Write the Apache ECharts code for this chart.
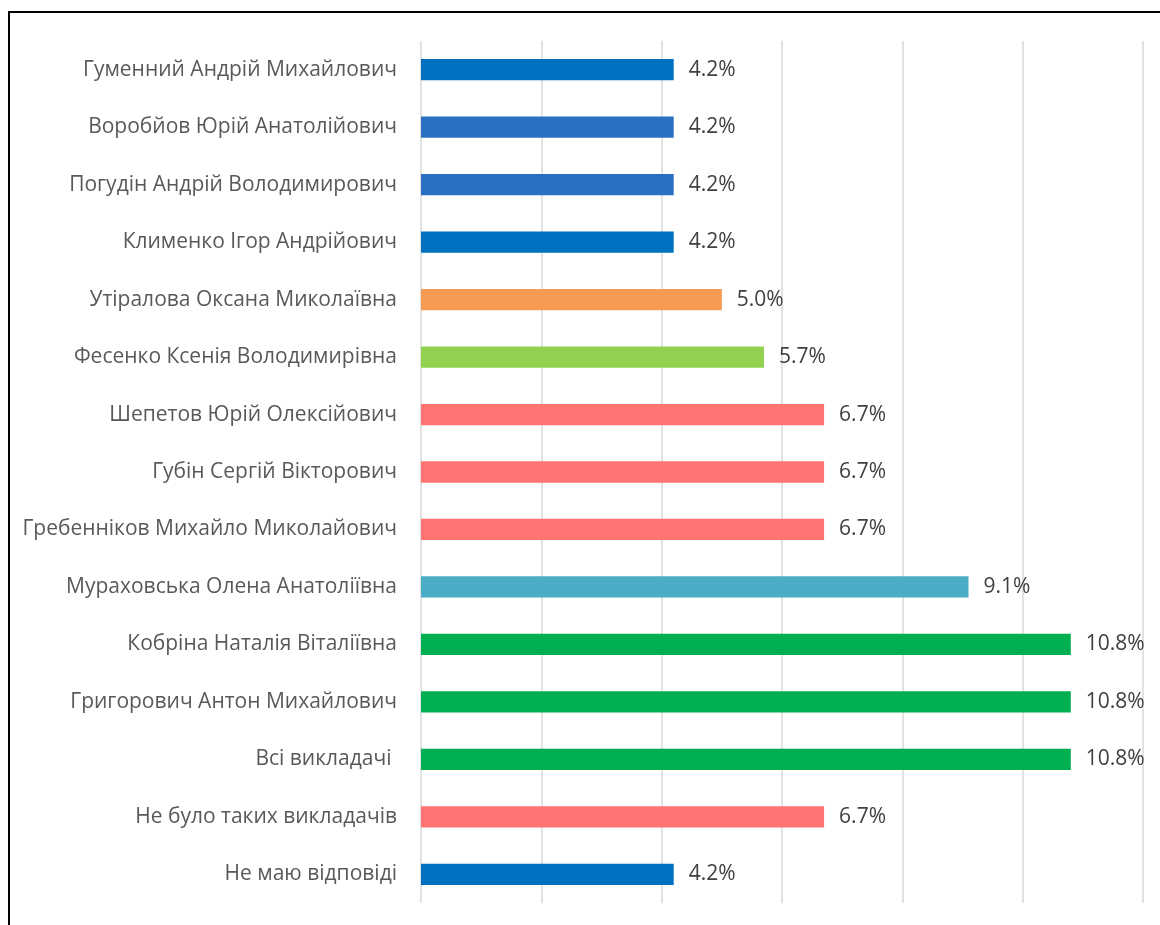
<!DOCTYPE html>
<html>
<head>
<meta charset="utf-8">
<script src="https://cdn.jsdelivr.net/npm/echarts@6/dist/echarts.min.js"></script>
<style>
  html, body { margin: 0; padding: 0; background: #fff; }
  .frame {
    position: absolute;
    left: 8px;
    top: 11px;
    width: 1200px;
    height: 1000px;
    border-top: 2px solid #000;
    border-left: 2px solid #000;
  }
  .barchart {
    position: absolute;
    left: 0;
    top: 0;
    width: 1160px;
    height: 925px;
  }
</style>
</head>
<body>
<div class="frame"></div>
<div class="barchart" id="chart"></div>
<script>
// категорії зверху вниз
const names = [
  'Гуменний Андрій Михайлович',
  'Воробйов Юрій Анатолійович',
  'Погудін Андрій Володимирович',
  'Клименко Ігор Андрійович',
  'Утіралова Оксана Миколаївна',
  'Фесенко Ксенія Володимирівна',
  'Шепетов Юрій Олексійович',
  'Губін Сергій Вікторович',
  'Гребенніков Михайло Миколайович',
  'Мураховська Олена Анатоліївна',
  'Кобріна Наталія Віталіївна',
  'Григорович Антон Михайлович',
  'Всі викладачі ',
  'Не було таких викладачів',
  'Не маю відповіді'
]
const percents = [4.2, 4.2, 4.2, 4.2, 5.0, 5.7, 6.7, 6.7, 6.7, 9.1, 10.8, 10.8, 10.8, 6.7, 4.2]
const barColors = [
  '#0070C0', '#2A70C2', '#2A70C2', '#0070C0', '#F79B52',
  '#92D050', '#FF7373', '#FF7373', '#FF7373', '#4BACC6',
  '#00B050', '#00B050', '#00B050', '#FF7373', '#0070C0'
]

const chart = echarts.init(document.getElementById('chart'))
const option = {
  animation: false,
  grid: {
    left: 421,
    right: 17,
    top: 41,
    bottom: 22,
    containLabel: false
  },
  xAxis: {
    type: 'value',
    min: 0,
    max: 12,
    interval: 2,
    axisLabel: { show: false },
    axisLine: { show: false },
    axisTick: { show: false },
    splitLine: {
      show: true,
      lineStyle: { color: '#d9d9d9', width: 1.5 }
    }
  },
  yAxis: {
    type: 'category',
    inverse: true,
    data: names,
    axisLine: { show: false },
    axisTick: { show: false },
    axisLabel: {
      margin: 24,
      fontFamily: 'Open Sans',
      fontSize: 21,
      color: '#595959'
    }
  },
  series: [
    {
      type: 'bar',
      barWidth: '37%',
      data: percents.map((v, i) => ({
        value: v,
        itemStyle: { color: barColors[i] }
      })),
      label: {
        show: true,
        position: 'right',
        distance: 15,
        fontFamily: 'Open Sans',
        fontSize: 21,
        color: '#404040',
        formatter: (p) => p.value.toFixed(1) + '%'
      }
    }
  ]
}
chart.setOption(option)
</script>
</body>
</html>
